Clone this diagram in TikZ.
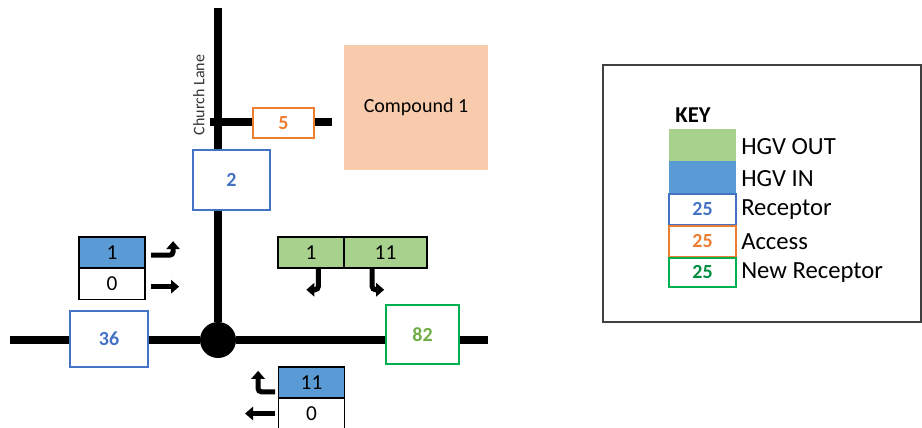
\documentclass[tikz,border=0pt]{standalone}
\usepackage{fontspec}
\setmainfont{Carlito}
\usetikzlibrary{arrows.meta}
\definecolor{InBlue}{HTML}{5B9BD5}
\definecolor{RecBlue}{HTML}{4472C4}
\definecolor{AccOrange}{HTML}{ED7D31}
\definecolor{NewGreen}{HTML}{00B050}
\definecolor{OutGreen}{HTML}{A9D18E}
\definecolor{TextGreen}{HTML}{70AD47}
\definecolor{Peach}{HTML}{F8CBAD}

\begin{document}
\begin{tikzpicture}[x=0.75pt,y=-0.75pt]
   \useasboundingbox (0,0) rectangle (922,428);
   \tikzset{RoadStyle/.style={line width=6pt}}
   \tikzset{BoxStyle/.style={draw, fill=white, line width=1.1pt, inner sep=0pt,
      minimum width=49.5pt, minimum height=23.25pt, font=\fontsize{16}{16}\selectfont}}
   \tikzset{ReceptorStyle/.style={BoxStyle, draw=RecBlue, text=RecBlue, font=\fontsize{15}{15}\selectfont\bfseries}}
   \tikzset{ArrowStyle/.style={line width=3.8pt, -{Triangle[width=10pt,length=6pt]}, rounded corners=2.5pt}}
   \tikzset{KeyStyle/.style={BoxStyle, draw=none, minimum width=50pt, minimum height=24pt}}
   \tikzset{KeyText/.style={anchor=west, inner sep=0pt, font=\fontsize{18.5}{18.5}\selectfont}}
   % roads
   \coordinate (north) at (218,8);
   \coordinate (west) at (10,340);
   \coordinate (east) at (488,340);
   \coordinate (spurW) at (210,122);
   \coordinate (spurE) at (332,122);
   \node[circle, fill=black, minimum size=27pt, inner sep=0pt] (junction) at (218,340) {};
   \draw[RoadStyle] (north) -- (junction);
   \draw[RoadStyle] (west) -- (junction) -- (east);
   \draw[RoadStyle] (spurW) -- (spurE);
   \node[rotate=90, text=black!80, font=\fontsize{12}{12}\selectfont] (lane) at (199,95) {Church Lane};
   % compound and receptors
   \node[fill=Peach, minimum width=108pt, minimum height=93.75pt, font=\fontsize{15}{15}\selectfont] (compound) at (416,107.5) {Compound 1};
   \node[BoxStyle, draw=AccOrange, text=AccOrange, font=\fontsize{15}{15}\selectfont\bfseries, minimum width=45.75pt, minimum height=22.5pt] (acc5) at (283.5,123) {5};
   \node[ReceptorStyle, minimum width=57.75pt, minimum height=45pt] (rec2) at (231.5,180) {2};
   \node[ReceptorStyle, minimum width=58.5pt, minimum height=42pt] (rec36) at (109,339) {36};
   \node[ReceptorStyle, draw=NewGreen, text=TextGreen, minimum width=55pt, minimum height=44pt] (rec82) at (422.5,334.5) {82};
   % flows
   \node[BoxStyle, fill=InBlue] (inW) at (112,252.5) {1};
   \node[BoxStyle] (outW) at (112,284) {0};
   \node[BoxStyle, fill=OutGreen] (outL) at (311,252.5) {1};
   \node[BoxStyle, fill=OutGreen, minimum width=62.25pt] (outR) at (385.5,252.5) {11};
   \node[BoxStyle, fill=InBlue] (inS) at (311.5,382.5) {11};
   \node[BoxStyle] (outS) at (311.5,413.5) {0};
   \draw[ArrowStyle] ([xshift=4pt,yshift=-2pt]inW.east) -| ++(22,-14);
   \draw[ArrowStyle] ([xshift=4pt,yshift=-2pt]outW.east) -- ++(28,0);
   \draw[ArrowStyle] ([xshift=5.5pt]outL.south) |- ++(-12,21);
   \draw[ArrowStyle] ([xshift=-10pt]outR.south) |- ++(12,21);
   \draw[ArrowStyle] ([xshift=-2pt,yshift=-7pt]inS.west) -| ++(-17,-21);
   \draw[ArrowStyle] ([xshift=-2pt]outS.west) -- ++(-30,0);
   % key
   \node[draw=black!75, line width=1.1pt, minimum width=238.5pt, minimum height=192.75pt] (key) at (762,193.5) {};
   \node[inner sep=0pt, font=\fontsize{17}{17}\selectfont\bfseries] (keyTitle) at (693,115) {KEY};
   \node[KeyStyle, fill=OutGreen] (keyOut) at (702.5,145) {};
   \node[KeyStyle, fill=InBlue] (keyIn) at (702.5,177) {};
   \node[ReceptorStyle, minimum width=50pt, minimum height=23pt] (keyRec) at (702.5,209.5) {25};
   \node[ReceptorStyle, draw=AccOrange, text=AccOrange, minimum width=50pt, minimum height=23pt] (keyAcc) at (702.5,241.5) {25};
   \node[ReceptorStyle, draw=NewGreen, text=NewGreen!80!black, minimum width=50pt, minimum height=22pt] (keyNew) at (702.5,272.5) {25};
   \node[KeyText] at (741,147) {HGV OUT};
   \node[KeyText] at (741,179) {HGV IN};
   \node[KeyText] at (741,210) {Receptor};
   \node[KeyText] at (741,242) {Access};
   \node[KeyText] at (741,273) {New Receptor};
\end{tikzpicture}
\end{document}
